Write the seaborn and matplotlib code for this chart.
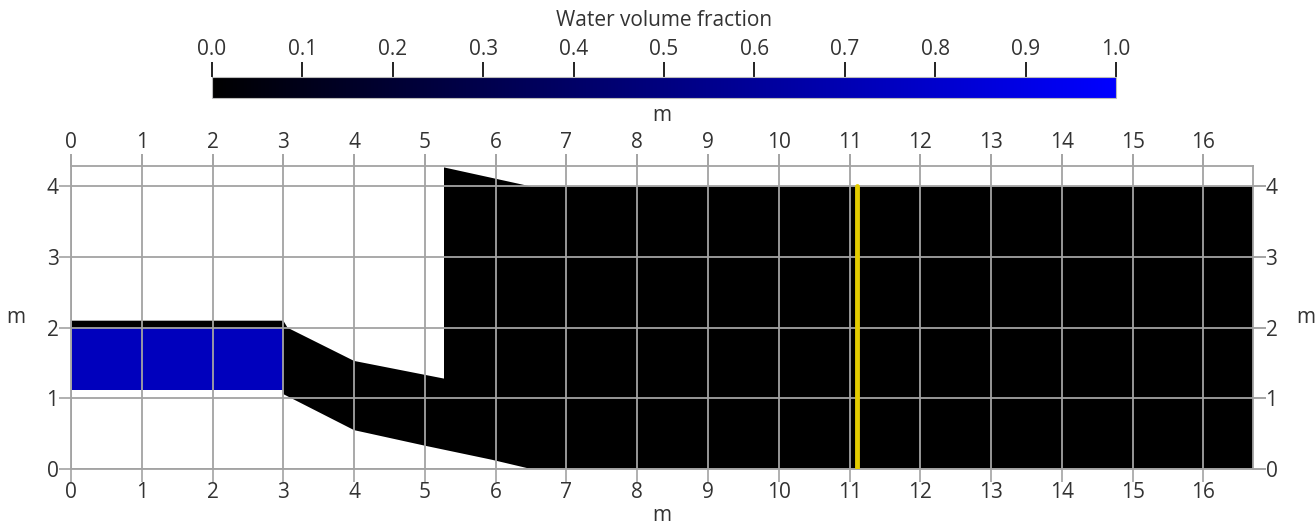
import numpy as np
import matplotlib
matplotlib.use("Agg")
import matplotlib.pyplot as plt
import seaborn as sns
import pandas as pd
from matplotlib.colors import LinearSegmentedColormap, Normalize
import matplotlib as mpl

# ---- data ----
domain_x = [0, 3, 3, 4, 5, 5.95, 6.5, 16.7, 16.7, 6.5, 5.27, 5.27, 4.0, 3.06, 3.0, 0]
domain_y = [1.12, 1.12, 1.06, 0.55, 0.33, 0.13, 0.0, 0.0, 4.0, 4.0, 4.27, 1.28, 1.53, 2.0, 2.1, 2.1]
domain_fraction = 0.0
water_x = [0, 3, 3, 0]
water_y = [1.12, 1.12, 2.0, 2.0]
water_fraction = 0.74
gauge_x = [11.1, 11.1]
gauge_y = [0.0, 4.0]
x_ticks = list(range(0, 17))
y_ticks = list(range(0, 5))
cbar_ticks = [0.0, 0.1, 0.2, 0.3, 0.4, 0.5, 0.6, 0.7, 0.8, 0.9, 1.0]
cbar_title = "Water volume fraction"
axis_unit = "m"

sns.set_theme(style="white")
plt.rcParams['font.family'] = ['Open Sans', 'DejaVu Sans']

FS = 15
TXT = "#333333"
GRID = "#a3a3a3"
cmap = LinearSegmentedColormap.from_list("wb", [(0, 0, 0), (0, 0, 1)])
norm = Normalize(0, 1)

fig = plt.figure(figsize=(13.16, 5.26), dpi=100)
ax = fig.add_axes([71 / 1316, 1 - 469 / 526, (1253 - 71) / 1316, (469 - 166) / 526])

ax.fill(domain_x, domain_y, color=cmap(norm(domain_fraction)), lw=0, zorder=1)
ax.fill(water_x, water_y, color=cmap(norm(water_fraction)), lw=0, zorder=1.1)
gauge = pd.DataFrame({"x": gauge_x, "y": gauge_y})
sns.lineplot(data=gauge, x="x", y="y", ax=ax, color="#e3cc00", lw=3.5, zorder=4,
             sort=False, estimator=None)

ax.set_xlim(0, 16.7)
ax.set_ylim(0, 4.29)
ax.set_xticks(x_ticks)
ax.set_yticks(y_ticks)
ax.set_axisbelow(False)
ax.grid(True, color=GRID, lw=1.3, zorder=2.5)
for s in ax.spines.values():
    s.set_color(GRID)
    s.set_linewidth(1.3)
ax.tick_params(axis="both", which="both", direction="out", length=9, width=1.2,
               color=GRID, labelcolor=TXT, labelsize=FS,
               top=True, right=True, labeltop=False, labelright=False,
               bottom=True, left=True, pad=0)
ax.set_xlabel(axis_unit, fontsize=FS, color=TXT, labelpad=2)
ax.set_ylabel(axis_unit, fontsize=FS, color=TXT, labelpad=22, rotation=0, va="center")

secx = ax.secondary_xaxis("top")
secx.set_xticks(x_ticks)
secx.tick_params(direction="out", length=9, width=1.2, color=GRID, labelcolor=TXT,
                 labelsize=FS, pad=0)
secx.set_xlabel(axis_unit, fontsize=FS, color=TXT, labelpad=8)
for s in secx.spines.values():
    s.set_visible(False)

secy = ax.secondary_yaxis("right")
secy.set_yticks(y_ticks)
secy.tick_params(direction="out", length=9, width=1.2, color=GRID, labelcolor=TXT,
                 labelsize=FS, pad=0)
secy.set_ylabel(axis_unit, fontsize=FS, color=TXT, labelpad=20, rotation=0, va="center")
for s in secy.spines.values():
    s.set_visible(False)

# ---- colorbar ----
cax = fig.add_axes([212 / 1316, 1 - 98 / 526, (1116 - 212) / 1316, 21 / 526])
cb = fig.colorbar(mpl.cm.ScalarMappable(norm=norm, cmap=cmap), cax=cax,
                  orientation="horizontal", ticks=cbar_ticks)
cb.ax.xaxis.set_ticks_position("top")
cb.ax.xaxis.set_label_position("top")
cb.ax.set_xticklabels([f"{t:.1f}" for t in cbar_ticks])
cb.ax.tick_params(direction="out", length=11, width=1.3, color="#111111",
                  labelcolor=TXT, labelsize=FS, pad=1)
cb.outline.set_edgecolor("#bbbbbb")
cb.outline.set_linewidth(0.8)
fig.text(664 / 1316, 1 - 20 / 526, cbar_title, fontsize=FS, color=TXT,
         ha="center", va="center")

fig.savefig("out.png", dpi=100)
